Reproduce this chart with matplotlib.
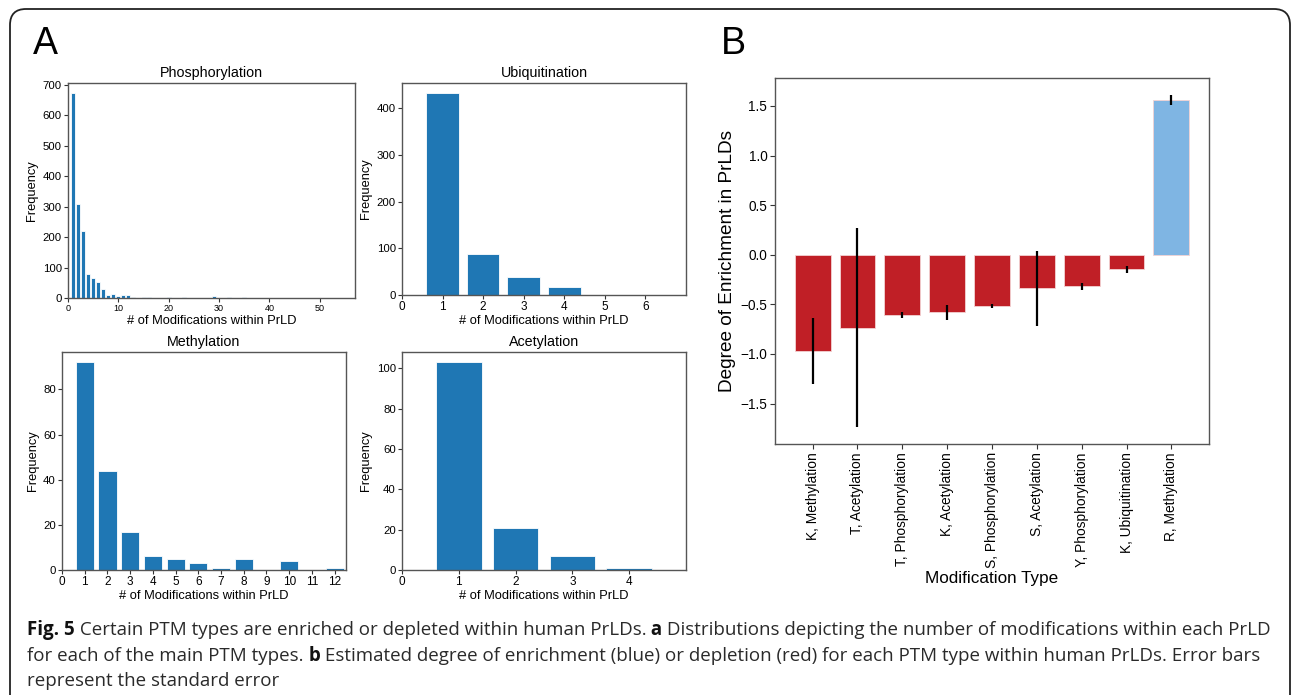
import matplotlib
matplotlib.use('Agg')
import matplotlib.pyplot as plt
from matplotlib.patches import FancyBboxPatch
from matplotlib.transforms import IdentityTransform
import numpy as np

plt.rcParams['font.family'] = ['Liberation Sans', 'DejaVu Sans']

# panel A: counts per number of modifications within a PrLD
phos_x = np.arange(1, 55)
phos_y = [672, 310, 220, 80, 67, 52, 28, 11, 14, 7, 10, 10, 4, 1, 2, 2, 1, 0, 1, 2,
          1, 1, 2, 0, 1, 1, 0, 1, 8, 1, 0, 3, 0, 1, 2, 0, 1, 0, 0, 1,
          1, 0, 0, 0, 0, 0, 0, 0, 0, 0, 0, 0, 0, 1]
ubiq_x = [1, 2, 3, 4, 5, 6]
ubiq_y = [432, 88, 39, 18, 0, 1]
meth_x = [1, 2, 3, 4, 5, 6, 7, 8, 9, 10, 11, 12]
meth_y = [92, 44, 17, 6, 5, 3, 1, 5, 0, 4, 0, 1]
acet_x = [1, 2, 3, 4]
acet_y = [103, 21, 7, 1]

# panel B: enrichment with standard error
mod_types = ['K, Methylation', 'T, Acetylation', 'T, Phosphorylation', 'K, Acetylation',
             'S, Phosphorylation', 'S, Acetylation', 'Y, Phosphorylation',
             'K, Ubiquitination', 'R, Methylation']
enrich = [-0.97, -0.735, -0.607, -0.58, -0.512, -0.34, -0.32, -0.145, 1.56]
enrich_se = [0.33, 1.005, 0.034, 0.076, 0.02, 0.379, 0.034, 0.035, 0.054]

fig = plt.figure(figsize=(12.92, 6.95), dpi=100)

W, H = 1292, 695
def box(l, t, r, b):
    return [l / W, 1 - b / H, (r - l) / W, (b - t) / H]

spine_c = '#555555'
blue = '#1f77b4'

panels = [
    ('Phosphorylation', phos_x, phos_y, box(68, 83, 355, 298), (0, 57), [0, 10, 20, 30, 40, 50], 6.5),
    ('Ubiquitination', ubiq_x, ubiq_y, box(402, 83, 686, 295), (0, 7), range(0, 7), 8.5),
    ('Methylation', meth_x, meth_y, box(62, 352, 346, 570), (0, 12.5), range(0, 13), 8.5),
    ('Acetylation', acet_x, acet_y, box(402, 352, 686, 570), (0, 5), range(0, 5), 8.5),
]

for title, xs, ys, pos, xlim, xt, xfs in panels:
    ax = fig.add_axes(pos)
    ax.bar(xs, ys, width=0.8, color=blue, edgecolor='white', linewidth=0.6)
    ax.set_xlim(*xlim)
    ax.set_xticks(list(xt))
    ax.set_title(title, fontsize=10.3, pad=4)
    ax.set_xlabel('# of Modifications within PrLD', fontsize=9.3, labelpad=1)
    ax.set_ylabel('Frequency', fontsize=9.3, labelpad=3)
    ax.tick_params(axis='y', labelsize=8.2, length=3, width=0.8, color='#333333', pad=1.5)
    ax.tick_params(axis='x', labelsize=xfs, length=3, width=0.8, color='#333333', pad=1.5)
    for s in ax.spines.values():
        s.set_color(spine_c)
        s.set_linewidth(1)

# panel B
axb = fig.add_axes(box(775, 78, 1209, 444))
xb = np.arange(len(mod_types))
colors = ['#7fb5e3' if v > 0 else '#c01f26' for v in enrich]
axb.bar(xb, enrich, width=0.8, color=colors, edgecolor='#f3d3d3', linewidth=0.6)
axb.errorbar(xb, enrich, yerr=enrich_se, fmt='none', ecolor='black', elinewidth=1.6, capsize=0)
axb.set_xticks(xb)
axb.set_xticklabels(mod_types, rotation=90, fontsize=9.9)
axb.set_yticks([-1.5, -1.0, -0.5, 0.0, 0.5, 1.0, 1.5])
axb.tick_params(axis='y', labelsize=9.8, length=3.5, width=0.8, color='#333333', pad=2)
axb.tick_params(axis='x', length=3.5, width=0.8, color='#333333', pad=2.5)
axb.set_ylabel('Degree of Enrichment in PrLDs', fontsize=13.7, labelpad=3)
axb.set_xlabel('Modification Type', fontsize=12.3, labelpad=2)
for s in axb.spines.values():
    s.set_color(spine_c)
    s.set_linewidth(1)

# panel letters
fig.text(33 / W, 1 - 54 / H, 'A', fontsize=27)
fig.text(721 / W, 1 - 54 / H, 'B', fontsize=27)

# frame around the figure
frame = FancyBboxPatch((10, -30), 1280, 716, boxstyle='round,pad=0,rounding_size=16',
                       transform=IdentityTransform(), facecolor='none', edgecolor='#222222',
                       linewidth=1.3)
fig.add_artist(frame)

# caption with bold pieces
cap_lines = [
    [('Fig. 5', True), (' Certain PTM types are enriched or depleted within human PrLDs.', False),
     (' a', True), (' Distributions depicting the number of modifications within each PrLD', False)],
    [('for each of the main PTM types.', False), (' b', True),
     (' Estimated degree of enrichment (blue) or depletion (red) for each PTM type within human PrLDs. Error bars', False)],
    [('represent the standard error', False)],
]
cap_base = [635, 661, 686]
cap_fam = ['Open Sans', 'DejaVu Sans']

def draw_caption(size):
    r = fig.canvas.get_renderer()
    arts, widths = [], []
    for parts, yb in zip(cap_lines, cap_base):
        x = 27
        for s, bold in parts:
            t = fig.text(x, H - yb, s, transform=IdentityTransform(), fontsize=size,
                         family=cap_fam, fontweight='bold' if bold else 'normal',
                         color='#111111' if bold else '#2a2a2a', va='baseline')
            arts.append(t)
            x += t.get_window_extent(r).width
        widths.append(x - 27)
    return arts, widths

arts, widths = draw_caption(12)
for a in arts:
    a.remove()
draw_caption(12 * 1238 / widths[0])

fig.savefig('out.png', dpi=100)
